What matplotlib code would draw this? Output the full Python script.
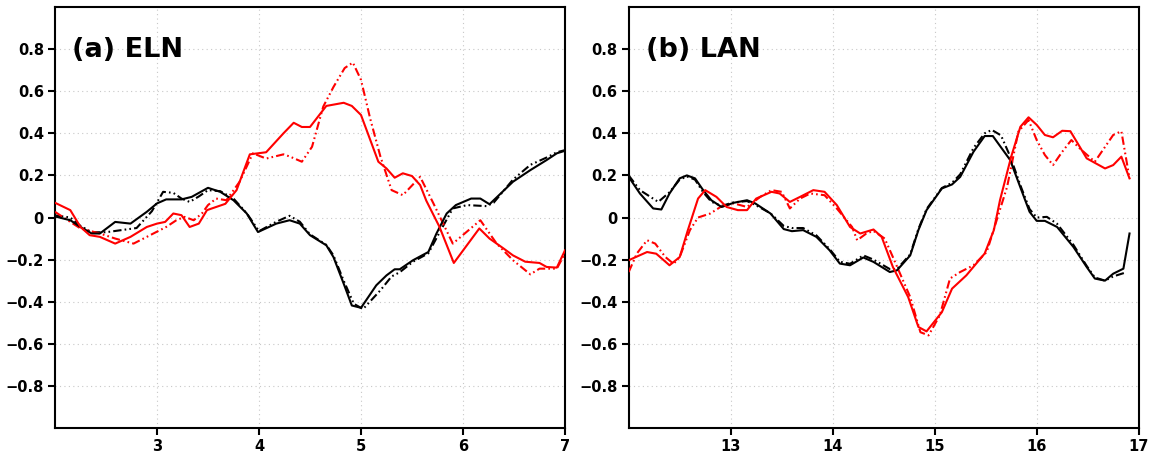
"""Two-panel composite of normalised anomalies for early (ELN) and late (LAN)
onset events: solid vs dash-dot-dot for the two estimates, red/black for the
two fields."""
import numpy as np
import matplotlib as mpl
import matplotlib.pyplot as plt

mpl.rcParams.update({
    "font.family": "DejaVu Sans", "font.weight": "bold",
    "axes.linewidth": 1.5, "axes.edgecolor": "black",
    "xtick.direction": "out", "ytick.direction": "out",
    "xtick.major.size": 5, "ytick.major.size": 5,
    "xtick.major.width": 1.5, "ytick.major.width": 1.5,
})

RED, BLACK = "#ff0000", "#000000"
DASH = (0, (4, 1.5, 0.8, 1.5, 0.8, 1.5))

# ---- (a) ELN ----
eln_red_x = [2.0, 2.15, 2.25, 2.34, 2.44, 2.59, 2.74, 2.9, 3.0, 3.08, 3.16, 3.24,
             3.32, 3.41, 3.49, 3.58, 3.67, 3.78, 3.91, 4.07, 4.24, 4.34, 4.42, 4.5,
             4.66, 4.83, 4.91, 5.0, 5.17, 5.25, 5.33, 5.41, 5.5, 5.58, 5.64, 5.77,
             5.91, 6.16, 6.26, 6.4, 6.49, 6.61, 6.75, 6.82, 6.92, 7.0]
eln_red = [0.07, 0.035, -0.045, -0.084, -0.092, -0.124, -0.092, -0.045, -0.029,
           -0.021, 0.019, 0.011, -0.045, -0.029, 0.035, 0.05, 0.065, 0.13, 0.30,
           0.31, 0.40, 0.45, 0.43, 0.43, 0.53, 0.545, 0.53, 0.487, 0.265, 0.233,
           0.189, 0.21, 0.197, 0.154, 0.08, -0.045, -0.216, -0.052, -0.10, -0.148,
           -0.18, -0.21, -0.216, -0.235, -0.238, -0.156]

eln_red2_x = [2.0, 2.15, 2.25, 2.44, 2.59, 2.77, 2.9, 3.09, 3.19, 3.27, 3.36, 3.44,
              3.5, 3.58, 3.68, 3.81, 3.94, 4.07, 4.24, 4.3, 4.42, 4.52, 4.63, 4.73,
              4.84, 4.92, 5.0, 5.09, 5.19, 5.3, 5.41, 5.58, 5.71, 5.9, 6.17, 6.33,
              6.49, 6.66, 6.75, 6.92, 7.0]
eln_red2 = [0.027, -0.021, -0.052, -0.076, -0.10, -0.124, -0.092, -0.045, -0.013,
            0.003, -0.013, 0.019, 0.059, 0.09, 0.082, 0.17, 0.305, 0.28, 0.30,
            0.29, 0.265, 0.336, 0.527, 0.62, 0.71, 0.736, 0.654, 0.47, 0.29, 0.13,
            0.106, 0.193, 0.067, -0.124, -0.013, -0.124, -0.203, -0.27, -0.243,
            -0.243, -0.17]

eln_blk_x = [2.0, 2.15, 2.25, 2.36, 2.44, 2.59, 2.74, 2.9, 3.0, 3.09, 3.24, 3.34,
             3.5, 3.62, 3.75, 3.88, 3.99, 4.17, 4.3, 4.4, 4.5, 4.66, 4.73, 4.83,
             4.91, 5.0, 5.15, 5.25, 5.33, 5.38, 5.51, 5.66, 5.74, 5.84, 5.93, 6.08,
             6.17, 6.26, 6.49, 6.66, 6.82, 6.92, 7.0]
eln_blk = [0.005, -0.013, -0.045, -0.076, -0.076, -0.021, -0.029, 0.027, 0.067,
           0.086, 0.086, 0.098, 0.141, 0.122, 0.082, 0.019, -0.069, -0.029, -0.013,
           -0.029, -0.084, -0.132, -0.188, -0.314, -0.418, -0.429, -0.322, -0.275,
           -0.246, -0.246, -0.203, -0.164, -0.076, 0.019, 0.059, 0.09, 0.09, 0.063,
           0.17, 0.225, 0.273, 0.305, 0.317]

eln_blk2_x = [2.0, 2.15, 2.25, 2.36, 2.5, 2.65, 2.8, 2.95, 3.06, 3.16, 3.24, 3.32,
              3.41, 3.5, 3.62, 3.75, 3.88, 4.0, 4.17, 4.3, 4.4, 4.5, 4.66, 4.73,
              4.83, 4.93, 5.02, 5.19, 5.3, 5.38, 5.51, 5.66, 5.76, 5.9, 6.04, 6.23,
              6.3, 6.49, 6.66, 6.82, 6.92, 7.0]
eln_blk2 = [0.01, 0.0, -0.04, -0.07, -0.07, -0.06, -0.05, 0.03, 0.122, 0.117, 0.09,
            0.074, 0.10, 0.13, 0.125, 0.09, 0.02, -0.065, -0.02, 0.008, -0.02,
            -0.08, -0.13, -0.18, -0.30, -0.41, -0.435, -0.346, -0.28, -0.26, -0.21,
            -0.17, -0.08, 0.043, 0.059, 0.054, 0.07, 0.18, 0.25, 0.285, 0.31, 0.32]

# ---- (b) LAN ----
lan_red_x = [12.0, 12.18, 12.27, 12.4, 12.5, 12.58, 12.68, 12.75, 12.86, 12.96,
             13.07, 13.16, 13.25, 13.4, 13.48, 13.58, 13.68, 13.81, 13.92, 14.04,
             14.17, 14.27, 14.4, 14.48, 14.59, 14.74, 14.84, 14.92, 15.07, 15.17,
             15.31, 15.49, 15.58, 15.64, 15.75, 15.84, 15.92, 16.0, 16.08, 16.16,
             16.25, 16.33, 16.49, 16.67, 16.75, 16.83, 16.91]
lan_red = [-0.203, -0.164, -0.172, -0.227, -0.188, -0.06, 0.09, 0.13, 0.098, 0.05,
           0.035, 0.035, 0.09, 0.122, 0.114, 0.074, 0.098, 0.13, 0.122, 0.059,
           -0.045, -0.076, -0.057, -0.092, -0.235, -0.378, -0.52, -0.541, -0.45,
           -0.338, -0.275, -0.171, -0.06, 0.082, 0.289, 0.431, 0.476, 0.44, 0.392,
           0.381, 0.412, 0.41, 0.281, 0.233, 0.249, 0.289, 0.186]

lan_red2_x = [12.0, 12.08, 12.18, 12.26, 12.36, 12.44, 12.5, 12.6, 12.68, 12.8,
              12.9, 13.03, 13.16, 13.29, 13.4, 13.5, 13.58, 13.68, 13.78, 13.92,
              14.04, 14.19, 14.24, 14.33, 14.4, 14.51, 14.59, 14.76, 14.86, 14.94,
              15.05, 15.15, 15.25, 15.38, 15.51, 15.71, 15.82, 15.92, 16.0, 16.08,
              16.16, 16.25, 16.34, 16.42, 16.57, 16.75, 16.83, 16.91]
lan_red2 = [-0.259, -0.171, -0.108, -0.124, -0.188, -0.22, -0.188, -0.06, 0.0,
            0.019, 0.05, 0.067, 0.05, 0.098, 0.13, 0.122, 0.043, 0.09, 0.114,
            0.106, 0.043, -0.045, -0.108, -0.076, -0.064, -0.10, -0.188, -0.378,
            -0.545, -0.56, -0.465, -0.29, -0.259, -0.227, -0.164, 0.146, 0.408,
            0.463, 0.368, 0.297, 0.249, 0.312, 0.368, 0.329, 0.265, 0.392, 0.41,
            0.186]

lan_blk_x = [12.0, 12.11, 12.24, 12.32, 12.4, 12.5, 12.57, 12.65, 12.73, 12.81,
             12.91, 13.03, 13.16, 13.24, 13.39, 13.52, 13.6, 13.71, 13.84, 13.97,
             14.07, 14.17, 14.3, 14.4, 14.56, 14.63, 14.76, 14.84, 14.92, 15.07,
             15.17, 15.25, 15.38, 15.49, 15.57, 15.74, 15.85, 15.93, 16.0, 16.08,
             16.2, 16.36, 16.49, 16.57, 16.67, 16.75, 16.85, 16.91]
lan_blk = [0.193, 0.114, 0.043, 0.038, 0.114, 0.186, 0.20, 0.186, 0.13, 0.082,
           0.05, 0.07, 0.082, 0.067, 0.019, -0.055, -0.065, -0.06, -0.092, -0.156,
           -0.219, -0.227, -0.19, -0.211, -0.259, -0.251, -0.18, -0.06, 0.035,
           0.138, 0.157, 0.193, 0.312, 0.387, 0.387, 0.273, 0.13, 0.027, -0.016,
           -0.016, -0.045, -0.14, -0.235, -0.29, -0.30, -0.267, -0.243, -0.076]

lan_blk2_x = [12.0, 12.11, 12.29, 12.4, 12.5, 12.57, 12.65, 12.73, 12.81, 12.91,
              13.03, 13.16, 13.24, 13.39, 13.52, 13.6, 13.71, 13.84, 13.97, 14.07,
              14.17, 14.3, 14.4, 14.56, 14.63, 14.76, 14.84, 14.92, 15.07, 15.17,
              15.25, 15.38, 15.49, 15.56, 15.65, 15.74, 15.85, 15.93, 16.0, 16.1,
              16.2, 16.36, 16.49, 16.57, 16.67, 16.75, 16.88]
lan_blk2 = [0.20, 0.13, 0.074, 0.12, 0.18, 0.195, 0.18, 0.12, 0.075, 0.055, 0.072,
            0.078, 0.06, 0.02, -0.04, -0.05, -0.05, -0.085, -0.15, -0.21, -0.22,
            -0.18, -0.20, -0.245, -0.245, -0.175, -0.055, 0.04, 0.14, 0.165, 0.205,
            0.33, 0.40, 0.416, 0.39, 0.29, 0.14, 0.04, 0.0, 0.003, -0.03, -0.13,
            -0.23, -0.285, -0.30, -0.28, -0.26]

YTICKS = [-0.8, -0.6, -0.4, -0.2, 0, 0.2, 0.4, 0.6, 0.8]
YTICKLABELS = ["\u22120.8", "\u22120.6", "\u22120.4", "\u22120.2", "0",
               "0.2", "0.4", "0.6", "0.8"]

panels = [
    ("(a) ELN", (2, 7), [3, 4, 5, 6, 7],
     [(eln_blk2_x, eln_blk2, BLACK, DASH), (eln_red2_x, eln_red2, RED, DASH),
      (eln_blk_x, eln_blk, BLACK, "-"), (eln_red_x, eln_red, RED, "-")]),
    ("(b) LAN", (12, 17), [13, 14, 15, 16, 17],
     [(lan_blk2_x, lan_blk2, BLACK, DASH), (lan_red2_x, lan_red2, RED, DASH),
      (lan_blk_x, lan_blk, BLACK, "-"), (lan_red_x, lan_red, RED, "-")]),
]

fig = plt.figure(figsize=(11.56, 4.55), dpi=100)
lefts = [55 / 1156, 628.7 / 1156]
for left, (title, xlim, xticks, series) in zip(lefts, panels):
    ax = fig.add_axes([left, 27 / 455, 510 / 1156, 421 / 455])
    for xs, ys, color, ls in series:
        ax.plot(xs, ys, color=color, ls=ls, lw=1.5, zorder=3)
    ax.set_xlim(*xlim); ax.set_ylim(-1, 1)
    ax.set_xticks(xticks)
    ax.set_xticklabels([str(t) for t in xticks])
    ax.set_yticks(YTICKS)
    ax.set_yticklabels(YTICKLABELS)
    ax.tick_params(labelsize=10.5, pad=3, top=False, right=False)
    ax.grid(True, color="#c8c8c8", ls=(0, (1, 3)), lw=0.8, zorder=0)
    ax.text(0.033, 0.882, title, transform=ax.transAxes, fontsize=19.5,
            fontweight="bold", va="baseline", ha="left")

fig.savefig("out.png", dpi=100)
